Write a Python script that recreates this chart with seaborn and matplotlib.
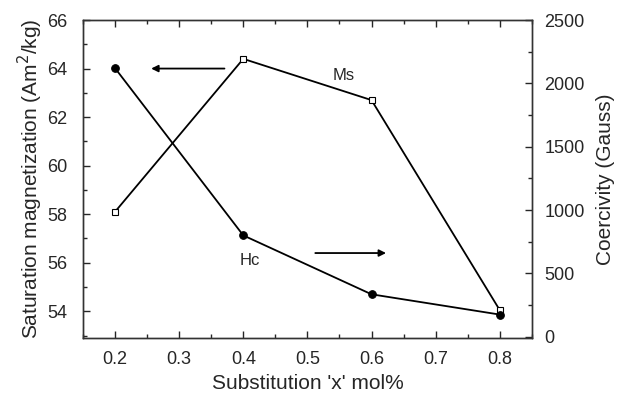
import numpy as np
import pandas as pd
import matplotlib
matplotlib.use("Agg")
import matplotlib.pyplot as plt
import seaborn as sns
from matplotlib.ticker import MultipleLocator

# values
x_sub = [0.2, 0.4, 0.6, 0.8]
ms_vals = [58.1, 64.4, 62.7, 54.05]
hc_vals = [2120, 800, 335, 175]

sns.set_style("ticks")
plt.rcParams["font.family"] = ["Liberation Sans", "DejaVu Sans"]

df = pd.DataFrame({"x": x_sub, "Ms": ms_vals, "Hc": hc_vals})

fig = plt.figure(figsize=(6.22, 3.97), dpi=100)
ax = fig.add_axes([0.1334, 0.1486, 0.7216, 0.801])
ax2 = ax.twinx()

sns.lineplot(data=df, x="x", y="Ms", ax=ax, color="black", lw=1.3,
             marker="s", markersize=5, markerfacecolor="white",
             markeredgecolor="black", markeredgewidth=0.8)
sns.lineplot(data=df, x="x", y="Hc", ax=ax2, color="black", lw=1.3,
             marker="o", markersize=5.5, markerfacecolor="black",
             markeredgecolor="black")

ax.set_xlim(0.15, 0.85)
ax.set_ylim(52.9, 66)
ax2.set_ylim(-10, 2500)

ax.xaxis.set_major_locator(MultipleLocator(0.1))
ax.xaxis.set_minor_locator(MultipleLocator(0.05))
ax.yaxis.set_major_locator(MultipleLocator(2))
ax.yaxis.set_minor_locator(MultipleLocator(1))
ax2.yaxis.set_major_locator(MultipleLocator(500))
ax2.yaxis.set_minor_locator(MultipleLocator(250))

ax.tick_params(which="both", direction="in", top=True, labelsize=13, width=1)
ax.tick_params(which="major", length=5)
ax.tick_params(which="minor", length=3)
ax.tick_params(axis="x", which="both", pad=9)
ax.tick_params(axis="y", which="both", pad=11)
ax2.tick_params(which="both", direction="in", labelsize=13, width=1, pad=9)
ax2.tick_params(which="major", length=5)
ax2.tick_params(which="minor", length=3)

for a in (ax, ax2):
    for s in a.spines.values():
        s.set_visible(True)
        s.set_linewidth(1)
        s.set_color("#333333")

ax.set_xlabel("Substitution 'x' mol%", fontsize=15, labelpad=5)
ax.set_ylabel("Saturation magnetization (Am$^2$/kg)", fontsize=15, labelpad=2)
ax2.set_ylabel("Coercivity (Gauss)", fontsize=15, labelpad=8)

ax.annotate("", xy=(0.252, 64.0), xytext=(0.375, 64.0),
            arrowprops=dict(arrowstyle="-|>", color="black", lw=1.3,
                            mutation_scale=10))
ax.annotate("", xy=(0.627, 56.4), xytext=(0.508, 56.4),
            arrowprops=dict(arrowstyle="-|>", color="black", lw=1.3,
                            mutation_scale=10))
ax.text(0.556, 63.7, "Ms", fontsize=12, ha="center", va="center")
ax.text(0.41, 56.1, "Hc", fontsize=12, ha="center", va="center")

fig.savefig("out.png", dpi=100)
